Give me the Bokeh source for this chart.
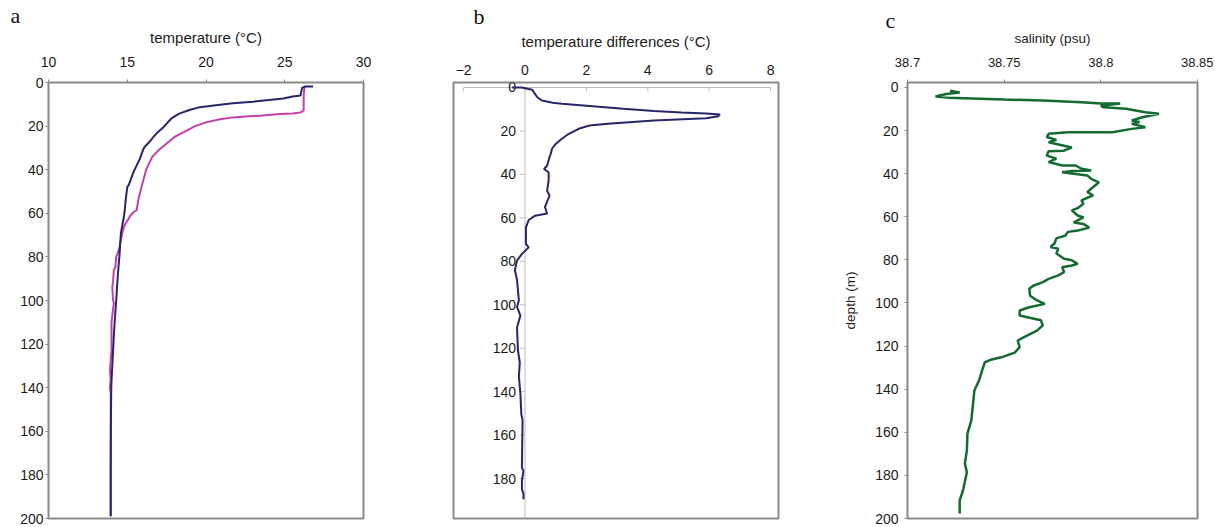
from bokeh.plotting import figure
from bokeh.models import Range1d, FixedTicker
from bokeh.layouts import row
from bokeh.embed import file_html
from bokeh.resources import INLINE
from bokeh.core.properties import value

# ---------------- data ----------------
# panel a: temperature profiles (depth m, temperature degC)
depth_t1 = [1.8, 1.8, 2.5, 6.0, 6.4, 7.3, 8.0, 8.8, 9.5, 10.5, 11.3, 12.5, 14.3, 16.5,
            20.5, 23.0, 25.5, 27.3, 29.6, 31.0, 33.0, 35.0, 38.0, 41.0, 44.0, 47.0,
            48.0, 51.0, 54.0, 58.0, 61.0, 65.0, 69.0, 74.0, 80.0, 84.0, 89.0, 94.0,
            100.0, 103.0, 110.0, 116.0, 123.0, 130.0, 137.0, 142.0, 160.0, 180.0, 199.0]
temp_t1 = [26.8, 26.3, 26.1, 26.0, 25.5, 24.9, 24.0, 23.0, 21.7, 20.5, 19.6, 19.0, 18.3, 17.8,
           17.3, 16.9, 16.6, 16.4, 16.1, 16.0, 15.9, 15.8, 15.6, 15.4, 15.25, 15.1,
           15.0, 14.95, 14.9, 14.85, 14.8, 14.7, 14.6, 14.55, 14.5, 14.45, 14.4, 14.35,
           14.3, 14.27, 14.2, 14.15, 14.1, 14.05, 14.0, 13.98, 13.96, 13.95, 13.95]

depth_t2 = [2.0, 2.5, 6.0, 12.8, 13.8, 14.2, 14.4, 15.2, 16.0, 17.0, 18.3, 20.0, 22.0, 23.5,
            25.0, 28.0, 31.0, 34.0, 37.0, 40.0, 44.0, 48.0, 51.0, 54.0, 58.6, 59.5, 61.0,
            63.5, 64.5, 67.0, 72.0, 76.0, 78.0, 80.0, 84.6, 86.0, 91.0, 94.0, 100.0,
            101.0, 110.0, 123.0, 132.0, 136.0, 140.0, 142.0, 199.0]
temp_t2 = [26.3, 26.25, 26.2, 26.2, 26.0, 25.5, 24.7, 23.4, 21.7, 20.8, 20.0, 19.3, 18.8, 18.4,
           18.0, 17.5, 17.0, 16.6, 16.4, 16.2, 16.05, 15.9, 15.8, 15.7, 15.6, 15.4, 15.2,
           15.0, 14.9, 14.75, 14.6, 14.5, 14.4, 14.3, 14.25, 14.15, 14.1, 14.05, 14.1,
           14.15, 14.0, 14.0, 13.9, 13.95, 13.9, 13.95, 13.95]

# panel b: temperature differences
depth_d = [0.0, 0.0, 1.0, 4.5, 6.0, 7.0, 7.5, 8.6, 9.8, 10.8, 11.5, 12.0, 12.4, 13.2, 14.2,
           15.2, 16.7, 17.5, 19.0, 21.3, 23.6, 26.0, 28.2, 30.0, 32.0, 36.0, 37.5, 39.0,
           42.8, 47.5, 49.8, 52.5, 55.0, 58.0, 59.0, 61.0, 64.4, 72.0, 73.6, 76.6, 79.7,
           84.0, 88.6, 98.0, 101.0, 105.0, 110.5, 121.0, 126.6, 133.0, 141.0, 150.5,
           153.0, 175.0, 176.5, 181.0, 185.0, 187.0, 189.5]
diff_d = [-0.42, -0.1, 0.23, 0.4, 0.55, 0.9, 1.2, 2.2, 3.2, 4.2, 5.1, 5.9, 6.35, 6.3, 5.9,
          4.2, 2.7, 2.1, 1.75, 1.43, 1.2, 1.0, 0.88, 0.85, 0.8, 0.72, 0.62, 0.77,
          0.77, 0.72, 0.8, 0.72, 0.65, 0.72, 0.33, 0.12, 0.03, 0.03, 0.12, -0.1, -0.26,
          -0.33, -0.26, -0.2, -0.26, -0.15, -0.26, -0.23, -0.17, -0.2, -0.15, -0.12,
          -0.08, -0.1, -0.05, -0.1, -0.1, -0.05, -0.05]

# panel c: salinity
depth_s = [1.5, 2.3, 3.0, 4.2, 4.7, 5.6, 6.0, 6.8, 7.4, 7.4, 8.5, 9.2, 9.9, 11.5, 12.2, 13.8,
           15.3, 16.0, 16.8, 18.4, 19.2, 20.8, 20.8, 21.5, 23.0, 24.3, 25.4, 27.8, 29.3,
           29.6, 31.6, 33.0, 34.6, 36.2, 36.2, 37.7, 38.5, 38.8, 39.3, 40.8, 42.4, 44.0,
           45.5, 47.0, 48.6, 50.0, 52.4, 54.0, 56.0, 57.0, 59.4, 60.3, 62.6, 63.3, 65.0,
           66.4, 67.0, 68.7, 70.0, 72.4, 74.0, 74.8, 77.0, 79.5, 80.2, 81.8, 82.6, 83.4,
           85.7, 87.2, 88.8, 90.3, 92.0, 93.4, 96.6, 98.8, 100.4, 102.0, 103.5, 105.8,
           106.6, 108.0, 110.4, 112.8, 116.0, 117.4, 120.5, 123.0, 125.2, 126.2, 127.5,
           131.3, 136.0, 140.6, 148.5, 154.5, 160.6, 168.4, 174.5, 178.6, 187.0, 191.6, 197.7]
sal_s = [38.722, 38.727, 38.72, 38.7145, 38.721, 38.75, 38.77, 38.79, 38.80, 38.81, 38.80,
         38.8015, 38.813, 38.823, 38.83, 38.8215, 38.816, 38.82, 38.816, 38.823, 38.816,
         38.806, 38.783, 38.773, 38.772, 38.777, 38.773, 38.785, 38.781, 38.773, 38.772,
         38.777, 38.773, 38.78, 38.787, 38.79, 38.795, 38.785, 38.78, 38.793, 38.795,
         38.799, 38.797, 38.795, 38.793, 38.796, 38.79, 38.791, 38.788, 38.785, 38.788,
         38.791, 38.786, 38.791, 38.794, 38.788, 38.783, 38.7817, 38.777, 38.776, 38.774,
         38.778, 38.777, 38.781, 38.785, 38.788, 38.785, 38.78, 38.781, 38.778, 38.773,
         38.77, 38.765, 38.763, 38.7634, 38.767, 38.771, 38.763, 38.758, 38.758, 38.762,
         38.769, 38.77, 38.767, 38.76, 38.757, 38.758, 38.7555, 38.7485, 38.7436, 38.74,
         38.7386, 38.737, 38.7346, 38.7337, 38.733, 38.731, 38.7307, 38.7297, 38.7307,
         38.7287, 38.727, 38.727]

# ticks
depth_ticks = [0, 20, 40, 60, 80, 100, 120, 140, 160, 180, 200]
depth_ticks_b = [0, 20, 40, 60, 80, 100, 120, 140, 160, 180]
temp_ticks = [10, 15, 20, 25, 30]
diff_ticks = [-2, 0, 2, 4, 6, 8]
sal_ticks = [38.7, 38.75, 38.8, 38.85]
sal_labels = ["38.7", "38.75", "38.8", "38.85"]

FONT = "Liberation Sans"
SERIF = "Liberation Serif"
FRAME = "#8a8a8a"
NAVY = "#27266a"
MAGENTA = "#c43fae"
GREEN = "#146b32"
H = 526
TOP = 82
BOTTOM = 8


def make(width, xr, yr, ml, mr, yloc, title_size, letter, letter_offset, letter_standoff):
    p = figure(width=width, height=H, x_range=xr, y_range=yr,
               x_axis_location="above", y_axis_location=yloc,
               toolbar_location=None, output_backend="svg",
               min_border_left=ml, min_border_right=mr,
               min_border_top=TOP, min_border_bottom=BOTTOM, title=letter)
    p.title.text_font = SERIF
    p.title.text_font_size = "22px"
    p.title.text_font_style = "normal"
    p.title.text_color = "#111111"
    p.title.align = "left"
    p.title.offset = letter_offset
    p.title.standoff = letter_standoff
    p.xgrid.visible = False
    p.ygrid.visible = False
    p.outline_line_color = FRAME
    p.outline_line_width = 2
    p.background_fill_color = "white"
    p.border_fill_color = "white"
    for ax in p.axis:
        ax.axis_line_color = None
        ax.major_tick_line_color = FRAME
        ax.minor_tick_line_color = None
        ax.major_tick_in = 0
        ax.major_tick_out = 3
        ax.major_label_text_font = FONT
        ax.major_label_text_font_size = "14px"
        ax.major_label_text_color = "#1a1a1a"
        ax.axis_label_text_font = FONT
        ax.axis_label_text_font_size = title_size
        ax.axis_label_text_font_style = "normal"
        ax.axis_label_text_color = "#1a1a1a"
    return p


# ---- panel a ----  frame 48..363 x
pa = make(410, Range1d(10, 30), Range1d(200, 0), 48, 47, "left", "15px", "a", -38, -5)
pa.xaxis.ticker = FixedTicker(ticks=temp_ticks)
pa.yaxis.ticker = FixedTicker(ticks=depth_ticks)
pa.xaxis.axis_label = "temperature (°C)"
pa.xaxis.major_label_standoff = 13
pa.xaxis.axis_label_standoff = 8
pa.yaxis.major_label_standoff = 2
pa.line(temp_t2, depth_t2, line_color=MAGENTA, line_width=2)
pa.line(temp_t1, depth_t1, line_color=NAVY, line_width=2)

# ---- panel b ----  frame 453..778 x
pb = make(395, Range1d(-2.33, 8.26), Range1d(198.4, -2.3), 43, 27, None, "15px", "b", 20, 2)
pb.xaxis.ticker = FixedTicker(ticks=diff_ticks)
pb.xaxis.axis_label = "temperature differences (°C)"
pb.xaxis.major_tick_line_color = None
pb.xaxis.major_tick_out = 0
pb.xaxis.major_label_standoff = 8
pb.xaxis.axis_label_standoff = 12
AX = "#bdbdbd"
# internal axes crossing at zero
pb.segment(x0=[diff_ticks[0]], y0=[0], x1=[diff_ticks[-1]], y1=[0], line_color=AX, line_width=1)
pb.segment(x0=diff_ticks, y0=[0] * len(diff_ticks), x1=diff_ticks, y1=[1.8] * len(diff_ticks),
           line_color=AX, line_width=1)
pb.segment(x0=[0], y0=[0], x1=[0], y1=[200], line_color=AX, line_width=1)
pb.segment(x0=[-0.17] * len(depth_ticks_b), y0=depth_ticks_b, x1=[0] * len(depth_ticks_b),
           y1=depth_ticks_b, line_color=AX, line_width=1)
pb.text(x=[0] * len(depth_ticks_b), y=depth_ticks_b, text=[str(t) for t in depth_ticks_b],
        text_align="right", text_baseline="middle", x_offset=-9,
        text_font=value(FONT), text_font_size="14px", text_color="#1a1a1a")
pb.line(diff_d, depth_d, line_color=NAVY, line_width=2)

# ---- panel c ----  frame 907..1197 x
pc = make(408, Range1d(38.7, 38.85), Range1d(200, -2.32), 102, 16, "left", "13.5px", "c", -22, -11)
pc.xaxis.ticker = FixedTicker(ticks=sal_ticks)
pc.xaxis.major_label_overrides = {t: l for t, l in zip(sal_ticks, sal_labels)}
pc.xaxis.major_label_text_font_size = "13px"
pc.yaxis.ticker = FixedTicker(ticks=depth_ticks)
pc.xaxis.axis_label = "salinity (psu)"
pc.yaxis.axis_label = "depth (m)"
pc.xaxis.major_label_standoff = 13
pc.xaxis.axis_label_standoff = 9
pc.yaxis.major_label_standoff = 6
pc.yaxis.axis_label_standoff = 14
pc.line(sal_s, depth_s, line_color=GREEN, line_width=2.5)

layout = row(pa, pb, pc)
open("out.html", "w").write(file_html(layout, INLINE))
